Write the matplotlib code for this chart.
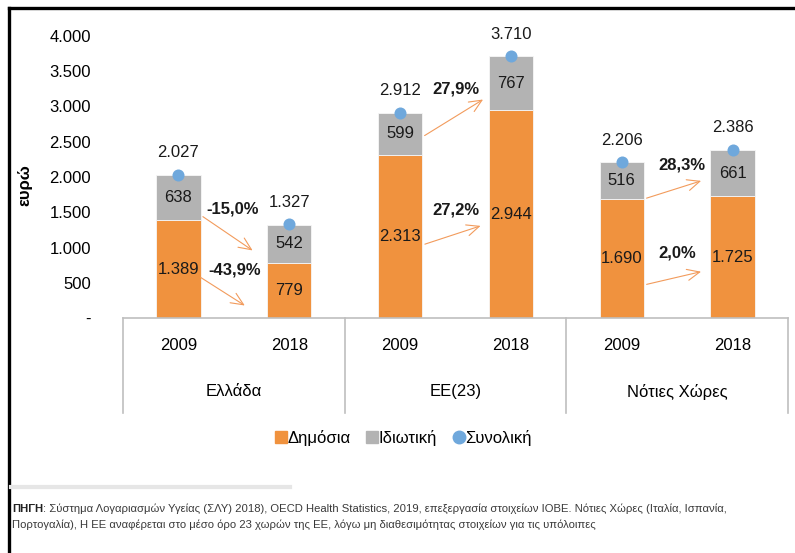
import matplotlib
matplotlib.use("Agg")
import matplotlib.pyplot as plt
from matplotlib.lines import Line2D
from matplotlib.transforms import blended_transform_factory

plt.rcParams['font.family'] = ['Liberation Sans', 'DejaVu Sans']

# health expenditure per capita (euro), 2009 vs 2018
groups = ['Ελλάδα', 'ΕΕ(23)', 'Νότιες Χώρες']
years = ['2009', '2018']
public = [1389, 779, 2313, 2944, 1690, 1725]
private = [638, 542, 599, 767, 516, 661]
total = [2027, 1327, 2912, 3710, 2206, 2386]
change_total = ['-15,0%', '27,9%', '28,3%']
change_public = ['-43,9%', '27,2%', '2,0%']

ORANGE = '#F0923E'
GREY = '#B3B3B3'
BLUE = '#6FA8DC'
ARROW = '#F29B5C'
FS = 12


def fmt(v):
    return f'{v:,}'.replace(',', '.')


fig = plt.figure(figsize=(7.95, 5.53), dpi=100)
W, H = 795, 553
ax = fig.add_axes([123 / W, (H - 318) / H, (788 - 123) / W, (318 - 36) / H])

x = list(range(len(public)))
bw = 0.4
ax.bar(x, public, width=bw, color=ORANGE, edgecolor='#F6F6F6', linewidth=0.6, zorder=2)
ax.bar(x, private, width=bw, bottom=public, color=GREY, edgecolor='#F6F6F6',
       linewidth=0.6, zorder=2)
ax.scatter(x, total, s=75, color=BLUE, zorder=4, linewidths=0)

for i in x:
    ax.text(i, public[i] / 2, fmt(public[i]), ha='center', va='center', fontsize=FS, color='#1a1a1a')
    ax.text(i, public[i] + private[i] / 2, fmt(private[i]), ha='center', va='center',
            fontsize=FS, color='#1a1a1a')
    ax.annotate(fmt(total[i]), (i, total[i]), xytext=(0, 16), textcoords='offset points',
                ha='center', va='center', fontsize=FS, color='#1a1a1a')

# change arrows between the two years of each group
# (start x, start y, end x, end y, text x, text y)
arrows_total = [(0.2, 1460, 0.69, 936, 0.49, 1546),
                (2.2, 2567, 2.77, 3120, 2.5, 3247),
                (4.2, 1688, 4.74, 1957, 4.54, 2170)]
arrows_public = [(0.18, 596, 0.62, 156, 0.51, 680),
                 (2.2, 1035, 2.75, 1319, 2.5, 1531),
                 (4.2, 468, 4.74, 666, 4.5, 922)]
for g in range(len(groups)):
    for (x0, y0, x1, y1, tx, ty), lab in [(arrows_total[g], change_total[g]),
                                          (arrows_public[g], change_public[g])]:
        ax.annotate('', xy=(x1, y1), xytext=(x0, y0),
                    arrowprops=dict(arrowstyle='->,head_length=0.9,head_width=0.4',
                                    color=ARROW, lw=0.8), zorder=3)
        ax.text(tx, ty, lab, ha='center', va='center', fontsize=FS,
                fontweight='bold', color='#1a1a1a')

ax.set_xlim(-0.5, 5.5)
ax.set_ylim(0, 4000)
ax.set_yticks(range(0, 4001, 500))
ax.set_yticklabels(['-'] + [fmt(v) for v in range(500, 4001, 500)], fontsize=FS)
ax.tick_params(axis='y', length=0, pad=23)
ax.set_xticks([])
for s in ['top', 'right', 'left']:
    ax.spines[s].set_visible(False)
ax.spines['bottom'].set_color('#BFBFBF')
ax.spines['bottom'].set_linewidth(1.2)

ax.text(-0.147, 0.47, 'ευρώ', transform=ax.transAxes, rotation=90, ha='center',
        va='center', fontsize=FS, fontweight='bold')

# two-level category axis
tr = blended_transform_factory(ax.transData, ax.transAxes)
for sx in [-0.5, 1.5, 3.5, 5.5]:
    ax.add_line(Line2D([sx, sx], [0, -0.337], transform=tr, color='#BFBFBF',
                       lw=1.2, clip_on=False))
for i in x:
    ax.text(i, -0.099, years[i % 2], transform=tr, ha='center', va='center', fontsize=FS)
for g, name in enumerate(groups):
    ax.text(2 * g + 0.5, -0.262, name, transform=tr, ha='center', va='center', fontsize=FS)

handles = [Line2D([], [], marker='s', ls='', color=ORANGE, markersize=9),
           Line2D([], [], marker='s', ls='', color=GREY, markersize=9),
           Line2D([], [], marker='o', ls='', color=BLUE, markersize=9)]
fig.legend(handles, ['Δημόσια', 'Ιδιωτική', 'Συνολική'], loc='center',
           bbox_to_anchor=(0.507, 1 - 438 / H), ncol=3, frameon=False, fontsize=FS,
           handletextpad=0.0, columnspacing=0.9, handlelength=0.8)

# outer frame and source note
fig.add_artist(Line2D([9 / W, 1], [1 - 8 / H, 1 - 8 / H], color='black', lw=2.4))
fig.add_artist(Line2D([9 / W, 9 / W], [0, 1 - 8 / H], color='black', lw=2.4))
fig.add_artist(Line2D([11 / W, 290 / W], [1 - 487 / H, 1 - 487 / H], color='#E6E6E6', lw=3))

src = fig.text(12 / W, 1 - 509 / H, 'ΠΗΓΗ', fontsize=8.1, fontweight='bold',
               va='center', color='#222222')
ax.annotate(': Σύστημα Λογαριασμών Υγείας (ΣΛΥ) 2018), OECD Health Statistics, 2019, '
            'επεξεργασία στοιχείων ΙΟΒΕ. Νότιες Χώρες (Ιταλία, Ισπανία,',
            xy=(1, 0.5), xycoords=src, va='center', fontsize=8.1, color='#3a3a3a',
            annotation_clip=False)
fig.text(12 / W, 1 - 525 / H, 'Πορτογαλία), Η ΕΕ αναφέρεται στο μέσο όρο 23 χωρών της ΕΕ, '
         'λόγω μη διαθεσιμότητας στοιχείων για τις υπόλοιπες', fontsize=8.1,
         va='center', color='#3a3a3a')

fig.savefig('out.png', dpi=100)
